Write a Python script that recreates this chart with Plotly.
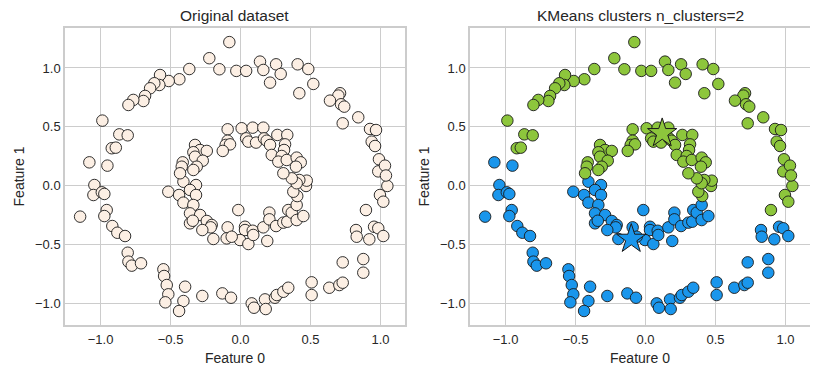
import plotly.graph_objects as go

# Points, grouped by KMeans cluster (right panel colours)
green_pts = [
    (-0.08, 1.22), (-0.223, 1.083), (-0.151, 0.989), (-0.03, 0.975), (0.04, 0.975),
    (-0.366, 0.991), (-0.437, 0.904), (-0.513, 0.889), (-0.575, 0.94), (-0.58, 0.855),
    (-0.616, 0.87), (-0.646, 0.827), (-0.682, 0.762), (-0.694, 0.719), (-0.766, 0.728),
    (-0.801, 0.685), (-0.987, 0.552), (-0.866, 0.435), (-0.806, 0.427), (-0.92, 0.317),
    (-0.891, 0.322), (0.896, -0.209), (0.996, -0.081), (1.02, -0.138), (1.049, -0.004),
    (0.984, 0.12), (0.139, 1.054), (0.163, 0.983), (0.254, 1.031), (0.287, 0.949),
    (0.211, 0.875), (0.408, 1.031), (0.484, 0.991), (0.52, 0.864), (0.42, 0.785),
    (0.711, 0.785), (0.699, 0.765), (0.639, 0.722), (0.718, 0.691), (0.741, 0.671),
    (0.73, 0.529), (0.841, 0.58), (0.925, 0.481), (0.968, 0.472), (0.937, 0.373),
    (0.961, 0.336), (0.989, 0.223), (1.032, 0.169), (1.039, 0.085),
    (-0.092, 0.478), (-0.092, 0.381), (-0.106, 0.345), (-0.075, 0.35), (-0.127, 0.294),
    (-0.325, 0.345), (-0.289, 0.302), (-0.241, 0.294), (-0.337, 0.283), (-0.325, 0.245),
    (-0.27, 0.211), (-0.413, 0.197), (-0.42, 0.16), (-0.313, 0.16), (-0.337, 0.132),
    (-0.432, 0.104), (0.405, -0.09), (0.377, -0.053), (0.468, -0.004), (0.473, 0.041),
    (0.42, 0.047), (0.401, 0.019), (0.366, 0.061), (0.306, 0.104), (0.008, 0.487),
    (0.087, 0.492), (0.163, 0.492), (0.04, 0.401), (0.056, 0.373), (0.111, 0.365),
    (0.168, 0.401), (0.187, 0.381), (0.211, 0.345), (0.263, 0.43), (0.334, 0.43),
    (0.318, 0.35), (0.311, 0.302), (0.223, 0.26), (0.294, 0.251), (0.27, 0.203),
    (0.33, 0.217), (0.401, 0.237), (0.43, 0.197), (0.396, 0.16),
]

blue_pts = [
    (-1.08, 0.197), (-0.951, 0.169), (-1.044, 0.004), (-1.051, -0.081), (-0.991, -0.058),
    (-0.973, -0.072), (-1.146, -0.265), (-0.956, -0.209), (-0.973, -0.26), (-0.916, -0.345),
    (-0.88, -0.402), (-0.825, -0.43), (-0.806, -0.572), (-0.801, -0.648), (-0.777, -0.682),
    (-0.711, -0.662), (-0.551, -0.713), (-0.546, -0.77), (-0.527, -0.847), (-0.516, -0.926),
    (-0.537, -0.994), (-0.396, -0.861), (-0.408, -0.983), (-0.439, -1.068), (-0.273, -0.94),
    (-0.13, -0.918), (-0.068, -0.955), (0.08, -1.003), (0.096, -1.04), (0.175, -0.969),
    (0.18, -1.051), (0.246, -0.955), (0.259, -0.932), (0.306, -0.904), (0.341, -0.87),
    (0.508, -0.824), (0.508, -0.932), (0.634, -0.87), (0.706, -0.847), (0.73, -0.827),
    (0.73, -0.654), (0.877, -0.626), (0.877, -0.742), (0.825, -0.379), (0.83, -0.436),
    (0.92, -0.458), (0.954, -0.351), (0.984, -0.364), (1.02, -0.43),
    (-0.408, 0.032), (-0.318, 0.004), (-0.516, -0.053), (-0.439, -0.081), (-0.361, -0.038),
    (-0.318, -0.081), (-0.408, -0.146), (-0.337, -0.166), (-0.361, -0.237), (-0.289, -0.251),
    (-0.361, -0.322), (-0.341, -0.3), (-0.241, -0.302), (-0.206, -0.336), (-0.213, -0.356),
    (-0.273, -0.379), (-0.194, -0.455), (-0.092, -0.356), (-0.099, -0.45), (-0.016, -0.209),
    (0.032, -0.351), (0.032, -0.379), (-0.004, -0.464), (0.056, -0.498), (-0.063, -0.436),
    (0.087, -0.385), (0.091, -0.421), (0.163, -0.356), (0.191, -0.472), (0.206, -0.231),
    (0.206, -0.288), (0.254, -0.345), (0.306, -0.316), (0.334, -0.308), (0.341, -0.209),
    (0.366, -0.231), (0.401, -0.294), (0.449, -0.26), (0.401, -0.166),
]

centroid_blue = (-0.102, -0.455)
centroid_green = (0.119, 0.444)

tick_vals = [-1.0, -0.5, 0.0, 0.5, 1.0]
tick_text = ["\u22121.0", "\u22120.5", "0.0", "0.5", "1.0"]

BLUE = "#1a96ec"
GREEN = "#8dc63c"
CREAM = "#fcefe4"
EDGE = "#1a1a1a"
TEXT = "#262626"

all_pts = blue_pts + green_pts

fig = go.Figure()

marker_common = dict(size=11.5, line=dict(color=EDGE, width=0.9))

fig.add_trace(go.Scatter(
    x=[p[0] for p in all_pts], y=[p[1] for p in all_pts],
    mode="markers", marker=dict(color=CREAM, **marker_common),
    xaxis="x", yaxis="y", showlegend=False))

fig.add_trace(go.Scatter(
    x=[p[0] for p in blue_pts], y=[p[1] for p in blue_pts],
    mode="markers", marker=dict(color=BLUE, **marker_common),
    xaxis="x2", yaxis="y2", showlegend=False))
fig.add_trace(go.Scatter(
    x=[p[0] for p in green_pts], y=[p[1] for p in green_pts],
    mode="markers", marker=dict(color=GREEN, **marker_common),
    xaxis="x2", yaxis="y2", showlegend=False))

fig.add_trace(go.Scatter(
    x=[centroid_blue[0], centroid_green[0]], y=[centroid_blue[1], centroid_green[1]],
    mode="markers",
    marker=dict(symbol="star", size=22, color=[BLUE, GREEN], line=dict(color=EDGE, width=1)),
    xaxis="x2", yaxis="y2", showlegend=False))

FONT = "Liberation Sans, Arial, sans-serif"
GRID = "#cccccc"

# page offset (browser body margin)
OX, OY = 8, 8
W, H = 818, 375

def px_x(a, b):
    return [(a - OX) / W, (b - OX) / W]

def px_y(top, bottom):
    return [(H - (bottom - OY)) / H, (H - (top - OY)) / H]

def common_axis():
    return dict(tickvals=tick_vals, ticktext=tick_text, showgrid=True, gridcolor=GRID,
                gridwidth=1, zeroline=False, showline=True, linecolor=GRID, linewidth=1.5,
                mirror=True, ticks="", automargin=False,
                tickfont=dict(size=13, color=TEXT, family=FONT))

def xax(domain, anchor):
    d = common_axis()
    d.update(domain=domain, anchor=anchor, range=[-1.254, 1.175], ticklabelstandoff=2,
             title=dict(text="Feature 0", font=dict(size=14, color=TEXT, family=FONT), standoff=7))
    return d

def yax(domain, anchor):
    d = common_axis()
    d.update(domain=domain, anchor=anchor, range=[-1.187, 1.34],
             title=dict(text="Feature 1", font=dict(size=14, color=TEXT, family=FONT), standoff=7))
    return d

title_y = (H - (15.5 - OY)) / H

fig.update_layout(
    width=W, height=H,
    margin=dict(l=0, r=0, t=0, b=0),
    paper_bgcolor="white", plot_bgcolor="white",
    font=dict(family=FONT, color=TEXT),
    xaxis=xax(px_x(65, 405), "y"),
    yaxis=yax(px_y(28, 325), "x"),
    xaxis2=xax(px_x(470, 810), "y2"),
    yaxis2=yax(px_y(28, 325), "x2"),
    annotations=[
        dict(text="Original dataset", x=((65 + 405) / 2 - OX) / W, y=title_y,
             xref="paper", yref="paper", showarrow=False, xanchor="center", yanchor="middle",
             font=dict(size=15.5, color=TEXT, family=FONT)),
        dict(text="KMeans clusters n_clusters=2", x=((470 + 810) / 2 - OX) / W, y=title_y,
             xref="paper", yref="paper", showarrow=False, xanchor="center", yanchor="middle",
             font=dict(size=15.5, color=TEXT, family=FONT)),
    ],
)

fig.write_html("out.html")
